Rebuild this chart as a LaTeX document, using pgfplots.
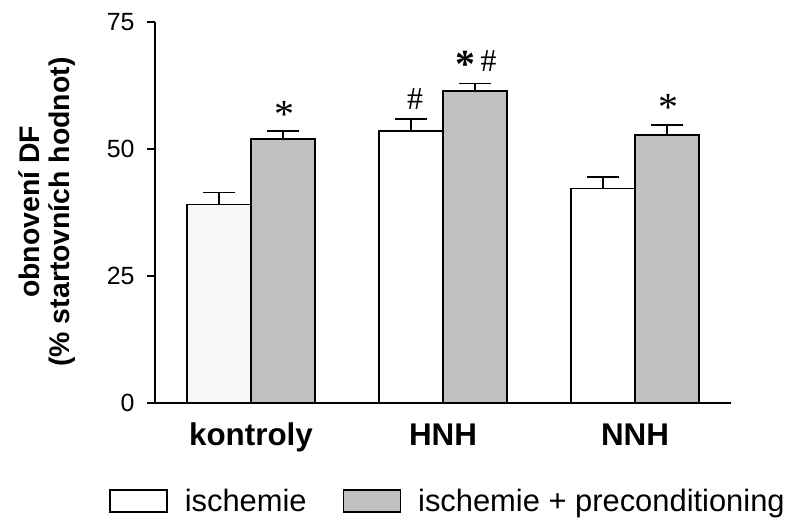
\documentclass[border=0pt]{standalone}
\usepackage{pgfplots}
\pgfplotsset{compat=1.18}
\usepackage{fontspec}
\setmainfont{Liberation Sans}
\newfontfamily\seriffont{Liberation Serif}
\definecolor{barGray}{HTML}{C0C0C0}
\definecolor{offWhite}{HTML}{F7F7F7}
\pgfplotsset{/pgfplots/ybar legend/.style={/pgfplots/legend image code/.code={\draw[##1,line width=1.5bp] (0bp,-11bp) rectangle (57bp,11bp);}}}
\begin{document}
\begin{tikzpicture}
\useasboundingbox (0,0) rectangle (792bp,519bp);
\begin{axis}[
  at={(155bp,116bp)}, anchor=south west,
  width=576bp, height=381bp, scale only axis,
  xmin=-0.5, xmax=2.5, ymin=0, ymax=75,
  axis x line=bottom, axis y line=left,
  axis line style={line width=1.5bp, -},
  ytick={0,25,50,75},
  xtick={0,1,2},
  xticklabels={kontroly,HNH,NNH},
  tick align=outside,
  major tick length=8bp,
  tick style={line width=1.5bp, black},
  xtick style={draw=none},
  /pgf/number format/assume math mode=true,
  yticklabel style={font=\fontsize{25}{25}\selectfont, xshift=-9bp},
  xticklabel style={font=\bfseries\fontsize{31.5}{31.5}\selectfont, anchor=base, yshift=-34bp},
  ybar, bar shift=0pt, bar width=0.3333,
  clip=false,
  legend columns=2,
  legend style={draw=none, fill=none, at={(rel axis cs:0.5087,-0.257)}, anchor=center,
    font=\fontsize{31}{31}\selectfont,
    nodes={inner ysep=1bp},
    /tikz/every odd column/.append style={column sep=15bp},
    /tikz/every even column/.append style={column sep=34bp}},
  error bars/y dir=plus, error bars/y explicit,
  error bars/error bar style={line width=1.5bp, black},
  error bars/error mark options={line width=1.5bp, black, mark size=16bp, rotate=90},
]
\addplot[fill=white, draw=black, line width=1.5bp]
  coordinates {(0.8333,53.5) +- (0,2.4) (1.8333,42.2) +- (0,2.3)};
\addlegendentry{ischemie}
\addplot[fill=barGray, draw=black, line width=1.5bp]
  coordinates {(0.1667,52.0) +- (0,1.5) (1.1667,61.4) +- (0,1.5) (2.1667,52.8) +- (0,1.9)};
\addlegendentry{ischemie + preconditioning}
\addplot[fill=offWhite, draw=black, line width=1.5bp, forget plot]
  coordinates {(-0.1667,39.1) +- (0,2.3)};
\node[anchor=base, font=\seriffont\fontsize{40}{40}\selectfont, inner sep=0pt] at (axis cs:0.172,54.3) {*};
\node[anchor=base, font=\seriffont\fontsize{40}{40}\selectfont, inner sep=0pt] at (axis cs:2.172,55.6) {*};
\node[anchor=base, font=\seriffont\bfseries\fontsize{40}{40}\selectfont, inner sep=0pt] at (axis cs:1.115,64.0) {*};
\node[anchor=base, font=\seriffont\fontsize{32}{32}\selectfont, inner sep=0pt] at (axis cs:1.237,65.2) {\#};
\node[anchor=base, font=\seriffont\fontsize{32}{32}\selectfont, inner sep=0pt] at (axis cs:0.854,57.7) {\#};
\end{axis}
\node[rotate=90, align=center, font=\bfseries\fontsize{28.5}{31}\selectfont] at (47bp,307bp) {obnovení DF\\(\% startovních hodnot)};
\end{tikzpicture}
\end{document}
